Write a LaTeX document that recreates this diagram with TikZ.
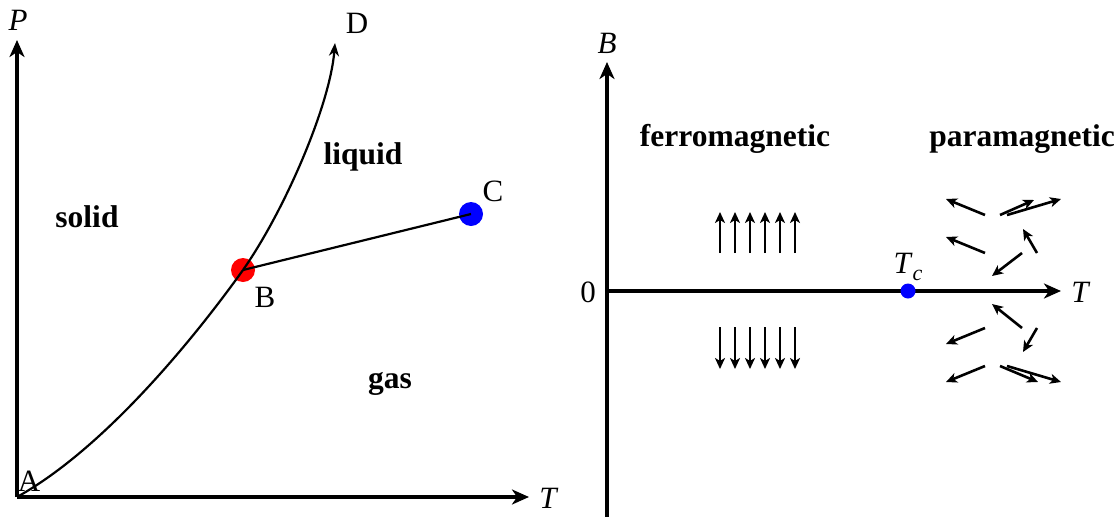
\documentclass[tikz,border=0pt]{standalone}
\usepackage{fontspec}
\setmainfont{Liberation Serif}
\usetikzlibrary{arrows.meta}
\begin{document}
\begin{tikzpicture}[x=1pt,y=-1pt,
  axis/.style={line width=4pt,-{Stealth[length=17pt,width=15pt,inset=5pt]}},
  thin/.style={line width=2.2pt},
  spin/.style={line width=2.6pt,-{Stealth[length=11pt,width=10pt,inset=3pt]}},
  lbl/.style={font=\fontsize{31}{36}\selectfont,inner sep=0pt},
  reg/.style={font=\fontsize{31.5}{36}\selectfont\bfseries,inner sep=0pt},
  dot/.style={circle,inner sep=0pt,minimum size=#1}]
\useasboundingbox (0,0) rectangle (1120,517);
% ---------- left panel ----------
\coordinate (O) at (17,497);
\coordinate (Ptop) at (17,40);
\coordinate (Tend) at (529,497);
\draw[axis] (O) -- (Ptop);
\draw[axis] (O) -- (Tend);
\node[lbl] (Plab) at (18,20) {\textit{P}};
\node[lbl] (Tlab) at (549,498) {\textit{T}};
\node[lbl] (Alab) at (29,481) {A};
\node[dot=24pt,fill=red] (B) at (243,270) {};
\node[dot=24pt,fill=blue] (C) at (471,214) {};
\coordinate (D) at (335,43);
\draw[thin] (O) .. controls (107,447) and (198,333) .. (B.center);
\draw[thin,-{Stealth[length=13pt,width=10pt,inset=4pt]}] (B.center) .. controls (285,210) and (330,105) .. (D);
\draw[thin] (B.center) -- (C.center);
\node[lbl] (Dlab) at (357,23) {D};
\node[lbl] (Blab) at (265,297) {B};
\node[lbl] (Clab) at (493,191) {C};
\node[reg] (solid) at (87,217) {solid};
\node[reg] (liquid) at (363,157) {liquid};
\node[reg] (gas) at (390,384) {gas};
% ---------- right panel ----------
\coordinate (Bbot) at (607,517);
\coordinate (Btop) at (607,62);
\coordinate (Tl) at (607,291);
\coordinate (Tr) at (1061,291);
\draw[axis] (Bbot) -- (Btop);
\draw[axis] (Tl) -- (Tr);
\node[lbl] (Blabel) at (607,43) {\textit{B}};
\node[lbl] (zero) at (588,292) {0};
\node[lbl] (TlabR) at (1081,292) {\textit{T}};
\node[dot=15pt,fill=blue] (Tc) at (908,291) {};
\node[lbl] (Tclab) at (908,267) {\textit{T}\raisebox{-0.22em}{\fontsize{22}{24}\selectfont\textit{c}}};
\node[reg] (ferro) at (735,139) {ferromagnetic};
\node[reg] (para) at (1022,139) {paramagnetic};
% ferromagnetic spins
\foreach \x [count=\i] in {720,735,750,765,780,795}{
  \coordinate (u\i a) at (\x,253);
  \coordinate (u\i b) at (\x,212);
  \draw[spin] (u\i a) -- (u\i b);
  \coordinate (d\i a) at (\x,327);
  \coordinate (d\i b) at (\x,369);
  \draw[spin] (d\i a) -- (d\i b);
}
% paramagnetic spins
\foreach \xa/\ya/\xb/\yb [count=\i] in {
  985/215/946/199, 1000/215/1034/200, 1007/215/1061/199,
  985/253/946/237, 1037/253/1023/229, 1022/253/992/276,
  1022/328/992/304, 985/328/946/344, 1037/328/1023/352,
  985/366/946/382, 1000/366/1038/382, 1007/366/1061/382}{
  \coordinate (p\i a) at (\xa,\ya);
  \coordinate (p\i b) at (\xb,\yb);
  \draw[spin] (p\i a) -- (p\i b);
}
\end{tikzpicture}
\end{document}
